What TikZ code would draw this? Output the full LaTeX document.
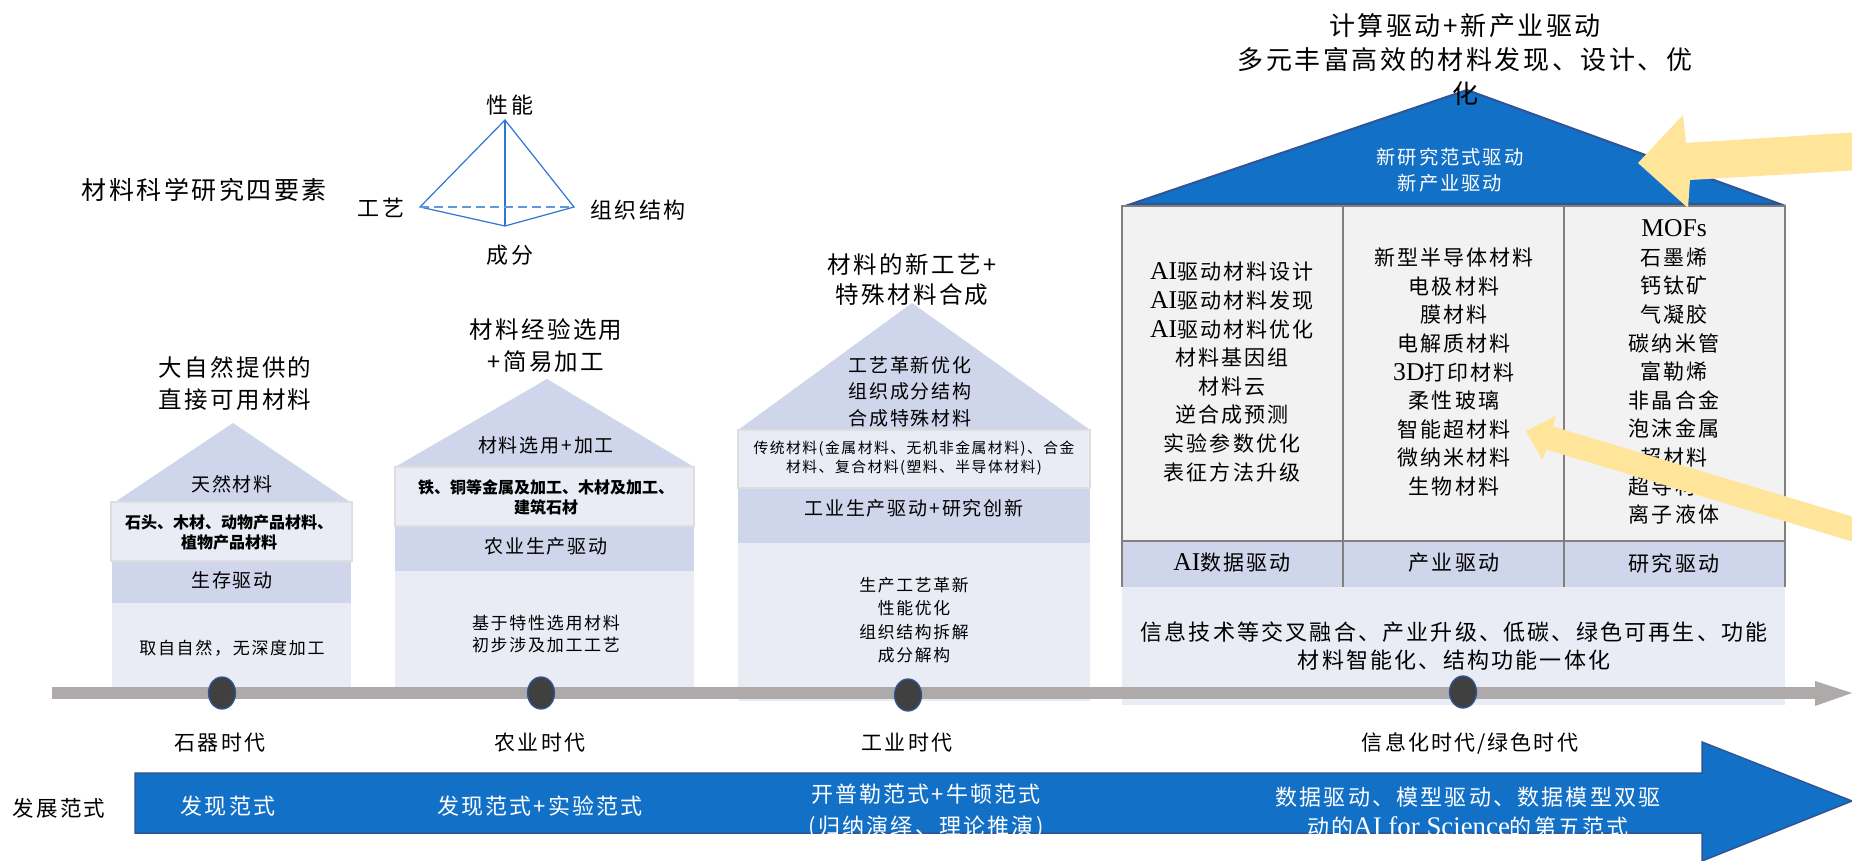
\documentclass[tikz,border=0pt]{standalone}
\usepackage{fontspec}
\setmainfont{Noto Sans CJK SC}
\newfontfamily\ks[LetterSpace=10]{Noto Sans CJK SC}
\newfontfamily\kb{Noto Sans CJK SC}
\newfontfamily\lt[Scale=1.22]{Liberation Serif}
\usetikzlibrary{shapes.geometric}
\newcommand\kfs[2]{\ks\fontsize{#1}{#2}\selectfont}
\definecolor{roofc}{RGB}{207,213,234}
\definecolor{lightc}{RGB}{233,235,245}
\definecolor{cellc}{RGB}{242,242,242}
\definecolor{gridc}{RGB}{128,128,128}
\definecolor{boxline}{RGB}{222,222,222}
\definecolor{blueA}{RGB}{19,112,199}
\definecolor{darkblue}{RGB}{47,85,151}
\definecolor{barc}{RGB}{174,170,170}
\definecolor{dotc}{RGB}{64,64,64}
\definecolor{pyr}{RGB}{46,117,214}
\definecolor{yel}{RGB}{255,229,153}
\tikzset{
  txt/.style={inner sep=0pt, outer sep=0pt, align=center, text=black},
  ttl/.style={txt, font=\kfs{23.5}{32}},
  rooft/.style={txt, font=\kfs{19}{26.5}},
  boldt/.style={txt, font=\kb\bfseries\fontsize{16}{19.5}\selectfont},
  bandt/.style={txt, font=\kfs{19}{24}},
  bodyt/.style={txt, font=\kfs{17}{22}},
  tabt/.style={txt, font=\kfs{21}{28.6}},
  erat/.style={txt, font=\kfs{21}{26}},
  arrt/.style={txt, text=white, font=\kfs{22}{32}},
  pyrl/.style={txt, font=\kfs{22}{26}},
  pline/.style={draw=pyr, line width=1.2},
  lbox/.style={fill=lightc, draw=boxline, line width=2},
  dot/.style={ellipse, minimum width=27, minimum height=32, inner sep=0pt, fill=dotc, draw=darkblue, line width=1.3},
  yarrow/.style={fill=yel, draw=none},
}
\begin{document}
\begin{tikzpicture}[x=1pt,y=-1pt]
\useasboundingbox (0,0) rectangle (1852,861);
\fill[white] (0,0) rectangle (1852,861);

% ---------- four elements pyramid ----------
\node[txt, font=\kfs{25}{30}] (four) at (204,190) {材料科学研究四要素};
\coordinate (pa) at (505,120);
\coordinate (pl) at (420,207);
\coordinate (pr) at (574,207);
\coordinate (pb) at (505,226);
\draw[pline] (pl) -- (pa) -- (pr) -- (pb) -- cycle;
\draw[pline] (pa) -- (pb);
\draw[pline, draw=pyr!75, dash pattern=on 9pt off 5pt] (pl) -- (pr);
\node[pyrl] (lxn) at (510,105) {性能};
\node[pyrl] (lgy) at (381,208) {工艺};
\node[pyrl] (lzz) at (638,210) {组织结构};
\node[pyrl] (lcf) at (510,255) {成分};

% ---------- house 1 ----------
\fill[roofc] (115,502) -- (233,423) -- (350,502) -- cycle;
\fill[lightc] (112,603) rectangle (351,690);
\fill[roofc] (112,561) rectangle (351,603);
\draw[lbox] (111,502) rectangle (352,561);
\node[ttl] (h1t) at (235,384) {大自然提供的\\直接可用材料};
\node[rooft] (h1r) at (232,484) {天然材料};
\node[boldt] (h1m) at (229,532.5) {石头、木材、动物产品材料、\\植物产品材料};
\node[bandt] (h1b) at (232,580) {生存驱动};
\node[bodyt] (h1d) at (232,648) {取自自然，无深度加工};

% ---------- house 2 ----------
\fill[roofc] (395,467) -- (547,379) -- (694,467) -- cycle;
\fill[lightc] (395,571) rectangle (694,690);
\fill[roofc] (395,526) rectangle (694,571);
\draw[lbox] (395,467) rectangle (694,526);
\node[ttl] (h2t) at (546,346) {材料经验选用\\+简易加工};
\node[rooft] (h2r) at (546,445) {材料选用+加工};
\node[boldt] (h2m) at (546,497.5) {铁、铜等金属及加工、木材及加工、\\建筑石材};
\node[bandt] (h2b) at (546,546) {农业生产驱动};
\node[bodyt] (h2d) at (546,634) {基于特性选用材料\\初步涉及加工工艺};

% ---------- house 3 ----------
\fill[roofc] (738,430) -- (912,303) -- (1090,430) -- cycle;
\fill[lightc] (738,543) rectangle (1090,701);
\fill[roofc] (738,488) rectangle (1090,543);
\draw[lbox] (738,430) rectangle (1090,488);
\node[ttl, font=\kfs{23.5}{30}] (h3t) at (912,280) {材料的新工艺+\\特殊材料合成};
\node[rooft] (h3r) at (910,391.5) {工艺革新优化\\组织成分结构\\合成特殊材料};
\node[txt, font=\kfs{14.8}{19}] (h3m) at (914,458.5) {传统材料(金属材料、无机非金属材料)、合金\\材料、复合材料(塑料、半导体材料)};
\node[bandt] (h3b) at (914,508) {工业生产驱动+研究创新};
\node[txt, font=\kfs{16.8}{23.3}] (h3d) at (914,620) {生产工艺革新\\性能优化\\组织结构拆解\\成分解构};

% ---------- house 4 ----------
\fill[lightc] (1122,587) rectangle (1785,705);
\fill[roofc] (1122,541) rectangle (1785,587);
\fill[cellc] (1122,206) rectangle (1785,541);
\draw[gridc, line width=2.5] (1122,206) rectangle (1785,541);
\draw[gridc, line width=2.5] (1343,206) -- (1343,587);
\draw[gridc, line width=2.5] (1564,206) -- (1564,587);
\draw[gridc, line width=2.5] (1122,541) -- (1122,587);
\draw[gridc, line width=2.5] (1785,541) -- (1785,587);
\draw[fill=blueA, draw=darkblue, line width=2] (1131,204) -- (1467,90) -- (1780,204) -- cycle;
\node[txt, text=white, font=\kfs{19.3}{26}] (h4r) at (1450,170) {新研究范式驱动\\新产业驱动};
\node[txt, font=\kfs{26}{34}] (h4t) at (1465,60) {计算驱动+新产业驱动\\多元丰富高效的材料发现、设计、优\\化};
\node[tabt] (c1) at (1232,372) {{\lt AI}驱动材料设计\\{\lt AI}驱动材料发现\\{\lt AI}驱动材料优化\\材料基因组\\材料云\\逆合成预测\\实验参数优化\\表征方法升级};
\node[tabt] (c2) at (1454,372) {新型半导体材料\\电极材料\\膜材料\\电解质材料\\{\lt 3D}打印材料\\柔性玻璃\\智能超材料\\微纳米材料\\生物材料};
\node[tabt] (c3) at (1674,372) {{\lt MOFs}\\石墨烯\\钙钛矿\\气凝胶\\碳纳米管\\富勒烯\\非晶合金\\泡沫金属\\超材料\\超导材料\\离子液体};
\node[tabt] (b1) at (1232,563) {{\lt AI}数据驱动};
\node[tabt] (b2) at (1454,563) {产业驱动};
\node[tabt] (b3) at (1674,563) {研究驱动};
\node[txt, font=\kfs{22}{28}] (h4d) at (1454,646) {信息技术等交叉融合、产业升级、低碳、绿色可再生、功能\\材料智能化、结构功能一体化};

% ---------- timeline ----------
\fill[barc] (52,687) rectangle (1815,699);
\fill[barc] (1815,681) -- (1852,693) -- (1815,706) -- cycle;
\node[dot] (d1) at (222,693) {};
\node[dot] (d2) at (541,693) {};
\node[dot] (d3) at (908,695) {};
\node[dot] (d4) at (1463,692) {};
\node[erat] (e1) at (220,743) {石器时代};
\node[erat] (e2) at (540,743) {农业时代};
\node[erat] (e3) at (907,743) {工业时代};
\node[erat] (e4) at (1470,743) {信息化时代/绿色时代};

% ---------- paradigm arrow ----------
\draw[fill=blueA, draw=darkblue, line width=1.5] (135,773) -- (1702,773) -- (1702,742) -- (1852,801) -- (1702,861) -- (1702,833) -- (135,833) -- cycle;
\node[txt, font=\kfs{21.5}{26}] (fz) at (59,808) {发展范式};
\node[arrt] (p1) at (228,806) {发现范式};
\node[arrt] (p2) at (540,806) {发现范式+实验范式};
\node[arrt] (p3) at (926,811) {开普勒范式+牛顿范式\\(归纳演绎、理论推演)};
\node[arrt, font=\kfs{22}{30}] (p4) at (1468,812) {数据驱动、模型驱动、数据模型双驱\\动的{\lt AI for Science}的第五范式};

% ---------- yellow arrows ----------
\fill[yarrow] (1638,163) -- (1683,115) -- (1686,143) -- (1860,132) -- (1860,170) -- (1690,180) -- (1688,208) -- cycle;
\fill[yarrow] (1526,431) -- (1555.6,415.9) -- (1553,426.5) -- (1893.5,528.9) -- (1886.5,551.9) -- (1546,449.4) -- (1542.4,459.9) -- cycle;
\end{tikzpicture}
\end{document}
